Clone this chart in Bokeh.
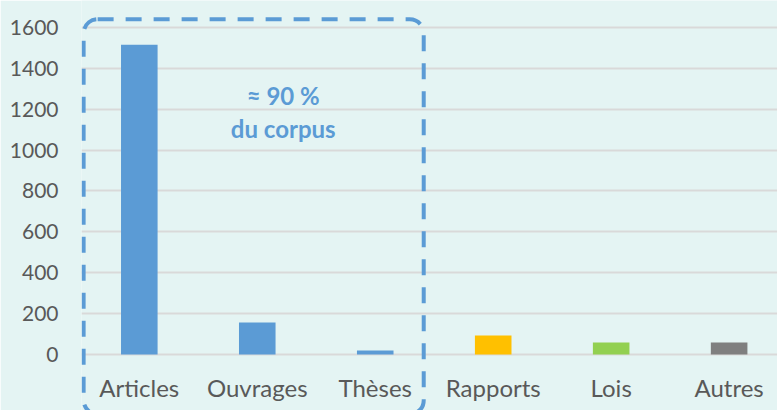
from bokeh.plotting import figure
from bokeh.models import Range1d, FixedTicker, BoxAnnotation, ColumnDataSource
from bokeh.embed import file_html
from bokeh.resources import INLINE
from bokeh.core.properties import value

# ---- data ----
categories = ["Articles", "Ouvrages", "Thèses", "Rapports", "Lois", "Autres"]
counts = [1515, 157, 20, 93, 59, 59]
bar_colors = ["#5B9BD5", "#5B9BD5", "#5B9BD5", "#FFC000", "#92D050", "#7F7F7F"]
y_ticks = [0, 200, 400, 600, 800, 1000, 1200, 1400, 1600]
note_lines = ["≈ 90 %", "du corpus"]
note_y = [1267, 1106]
note_x = 1.22
label_y = -161  # category labels sit below the 0 line

BG = "#E4F4F3"
TXT = "#595959"
BLUE = "#5B9BD5"
FONT = "Lato"

idx = list(range(len(categories)))
src = ColumnDataSource(dict(x=idx, top=counts, color=bar_colors))
lab = ColumnDataSource(dict(x=idx, y=[label_y] * len(idx), text=categories))

p = figure(width=777, height=410, output_backend="svg", toolbar_location=None,
           x_range=Range1d(-0.49, 5.41), y_range=Range1d(-274, 1732),
           x_axis_location=None,
           min_border_left=81, min_border_right=0, min_border_top=0, min_border_bottom=0,
           background_fill_color=BG, border_fill_color=BG, outline_line_color=None)

p.vbar(x="x", top="top", bottom=0, width=0.31, fill_color="color", line_color=None, source=src)

# category labels
p.text(x="x", y="y", text="text", source=lab, text_align="center", text_baseline="middle",
       text_font=value(FONT), text_font_size="24px", text_color=TXT)

# y axis
p.yaxis.ticker = FixedTicker(ticks=y_ticks)
ax = p.yaxis[0]
ax.axis_line_color = None
ax.major_tick_line_color = None
ax.minor_tick_line_color = None
ax.major_tick_out = 0
ax.major_tick_in = 0
ax.major_label_text_font = FONT
ax.major_label_text_color = TXT
ax.major_label_text_font_size = "21px"
ax.major_label_standoff = 23

p.xgrid.grid_line_color = None
p.ygrid.ticker = FixedTicker(ticks=y_ticks)
p.ygrid.grid_line_color = "#D9D9D9"
p.ygrid.grid_line_width = 2

# dashed group box around the first three categories
box = BoxAnnotation(left=idx[0] - 0.472, right=idx[2] + 0.411,
                    top=1640, bottom=-292,
                    fill_color=None, fill_alpha=0,
                    line_color=BLUE, line_alpha=1, line_width=4, line_dash="16 12",
                    border_radius=14)
p.add_layout(box)

p.text(x=[note_x] * len(note_lines), y=note_y, text=note_lines,
       text_align="center", text_baseline="middle",
       text_font=value(FONT), text_font_style="bold",
       text_font_size="24px", text_color=BLUE)

open("out.html", "w").write(file_html(p, INLINE))
